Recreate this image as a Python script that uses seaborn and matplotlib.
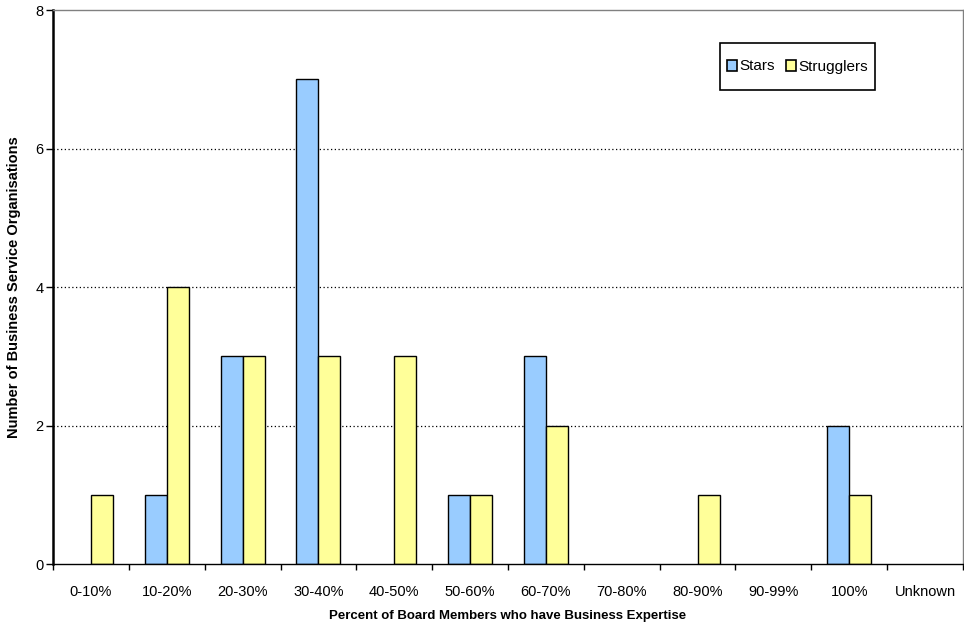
import matplotlib
matplotlib.use("Agg")
import matplotlib.pyplot as plt
from matplotlib.patches import Rectangle
import seaborn as sns
import pandas as pd

categories = ["0-10%", "10-20%", "20-30%", "30-40%", "40-50%", "50-60%",
              "60-70%", "70-80%", "80-90%", "90-99%", "100%", "Unknown"]
stars = [0, 1, 3, 7, 0, 1, 3, 0, 0, 0, 2, 0]
strugglers = [1, 4, 3, 3, 3, 1, 2, 0, 1, 0, 1, 0]
series_names = ["Stars", "Strugglers"]
palette = {"Stars": "#99CCFF", "Strugglers": "#FFFF99"}

df = pd.DataFrame({
    "category": categories * 2,
    "series": [series_names[0]] * len(categories) + [series_names[1]] * len(categories),
    "value": stars + strugglers,
})

sns.set_theme(style="white")
plt.rcParams["font.family"] = ["Liberation Sans", "DejaVu Sans"]
plt.rcParams["text.color"] = "black"
plt.rcParams["axes.labelcolor"] = "black"
plt.rcParams["xtick.color"] = "black"
plt.rcParams["ytick.color"] = "black"

W, H = 964, 626
fig = plt.figure(figsize=(W / 100, H / 100), dpi=100)
ax = fig.add_axes([53 / W, 62 / H, 910 / W, 554 / H])

sns.barplot(data=df, x="category", y="value", hue="series", order=categories,
            hue_order=series_names, palette=palette, width=0.58,
            edgecolor="black", linewidth=1.0, saturation=1, ax=ax, legend=True)

ax.set_xlim(-0.5, len(categories) - 0.5)
ax.set_ylim(0, 8)
ax.set_yticks([0, 2, 4, 6, 8])
for y in [2, 4, 6]:
    ax.axhline(y, color="black", linestyle=(0, (1, 2)), linewidth=0.9, zorder=0)
ax.axhline(8, color="#808080", linestyle="-", linewidth=1.2, zorder=0)

for side in ["top", "right"]:
    ax.spines[side].set_visible(True)
    ax.spines[side].set_color("#808080")
    ax.spines[side].set_linewidth(1.0)
ax.spines["left"].set_color("black")
ax.spines["left"].set_linewidth(1.8)
ax.spines["bottom"].set_color("black")
ax.spines["bottom"].set_linewidth(1.0)

# tick marks: y majors, x ticks at category boundaries
ax.tick_params(axis="y", which="major", direction="out", length=5, width=1,
               color="black", labelsize=10.5, pad=2, left=True)
ax.set_xticks(range(len(categories)))
ax.set_xticklabels(categories)
ax.tick_params(axis="x", which="major", length=0, labelsize=10.5, pad=15)
ax.set_xticks([i - 0.5 for i in range(len(categories) + 1)], minor=True)
ax.tick_params(axis="x", which="minor", direction="out", length=4, width=1,
               color="black", bottom=True)

ax.set_xlabel("Percent of Board Members who have Business Expertise",
              fontsize=9.5, fontweight="bold", labelpad=8)
ax.set_ylabel("Number of Business Service Organisations",
              fontsize=10.5, fontweight="bold", labelpad=10)

# legend: boxed key in the upper right
box_l, box_r, box_t, box_b = 720, 875, 43, 90
leg = ax.legend(loc="center",
                bbox_to_anchor=((box_l + box_r) / 2 / W, 1 - (box_t + box_b) / 2 / H),
                bbox_transform=fig.transFigure,
                ncol=2, frameon=False, fontsize=11,
                handlelength=0.7, handleheight=0.7, handletextpad=0.15,
                columnspacing=0.7, borderpad=0.2, borderaxespad=0)
for h in leg.legend_handles:
    h.set_edgecolor("black")
    h.set_linewidth(1.2)
fig.add_artist(Rectangle((box_l / W, 1 - box_b / H), (box_r - box_l) / W,
                         (box_b - box_t) / H, transform=fig.transFigure,
                         facecolor="none", edgecolor="black", linewidth=1.2))

# empty categories draw nothing
for container in ax.containers:
    for bar in container:
        if bar.get_height() == 0:
            bar.set_visible(False)

fig.savefig("out.png", dpi=100)
